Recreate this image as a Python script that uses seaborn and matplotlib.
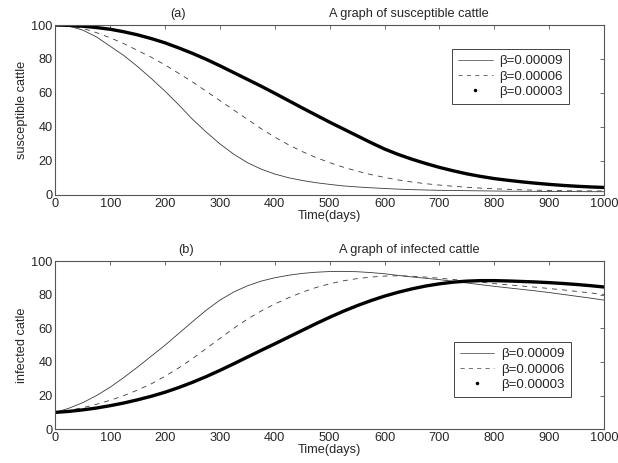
import numpy as np
import pandas as pd
import seaborn as sns
import matplotlib.pyplot as plt
from matplotlib.lines import Line2D

# 时间 (days), read every 25 days
t_days = list(range(0, 1001, 25))

# (a) susceptible cattle
s_b9 = [100, 99.3, 97, 93, 87.5, 82, 75.5, 68.5, 61, 53,
        44.5, 37, 30, 24, 19, 15.2, 12.3, 10.1, 8.5, 7.2,
        6.2, 5.3, 4.7, 4.2, 3.8, 3.4, 3.1, 2.9, 2.7, 2.6,
        2.5, 2.4, 2.3, 2.2, 2.15, 2.1, 2.0, 2.0, 1.95, 1.9, 1.9]
s_b6 = [100, 99.5, 98, 95.5, 92.5, 89, 85, 81, 76.5, 71.5,
        66.5, 61, 55.5, 50, 44.5, 39, 34, 29.5, 25.5, 22,
        19, 16.3, 14, 12, 10.3, 8.8, 7.6, 6.6, 5.8, 5.1,
        4.5, 4.0, 3.6, 3.3, 3.0, 2.8, 2.65, 2.5, 2.4, 2.35, 2.3]
s_b3 = [100, 99.8, 99.3, 98.5, 97.5, 96, 94.2, 92, 89.5, 86.5,
        83.3, 79.8, 76, 72, 68, 64, 59.8, 55.5, 51.2, 47,
        42.8, 38.8, 34.8, 30.8, 27, 23.8, 21, 18.5, 16.2, 14.2,
        12.4, 10.9, 9.6, 8.6, 7.7, 6.9, 6.2, 5.6, 5.1, 4.7, 4.4]

# (b) infected cattle
i_b9 = [10, 12.5, 15.8, 20, 25, 30.8, 37, 43.5, 50, 57,
        64, 70.8, 76.8, 81.6, 85.3, 88.1, 90.1, 91.6, 92.7, 93.4,
        93.8, 93.9, 93.7, 93.2, 92.5, 91.5, 90.6, 89.8, 89, 88,
        87, 86, 85, 84.1, 83.2, 82.3, 81.3, 80.2, 79.1, 78, 76.8]
i_b6 = [10, 11.2, 12.8, 14.8, 17.2, 20, 23.3, 27, 31.5, 36.5,
        42, 48, 54, 60, 65.5, 70.3, 74.5, 78.2, 81.5, 84.3,
        86.5, 88.3, 89.6, 90.5, 91.1, 91.3, 91.0, 90.5, 89.8, 89.1,
        88.3, 87.5, 86.6, 85.9, 85.2, 84.5, 83.7, 82.9, 82, 81.1, 80.2]
i_b3 = [10, 10.6, 11.5, 12.6, 14, 15.6, 17.5, 19.6, 22, 24.8,
        27.9, 31.3, 35, 38.9, 42.9, 46.9, 50.8, 54.8, 58.8, 62.8,
        66.6, 70.2, 73.5, 76.5, 79.2, 81.5, 83.5, 85.2, 86.5, 87.5,
        88.1, 88.4, 88.4, 88.2, 87.9, 87.6, 87.2, 86.7, 86.1, 85.4, 84.6]

beta_labels = ["β=0.00009", "β=0.00006", "β=0.00003"]

sns.set_style("white")
plt.rcParams['font.family'] = ['Liberation Sans', 'DejaVu Sans']
plt.rcParams['font.size'] = 9

fig = plt.figure(figsize=(6.18, 4.63), dpi=100)
ax1 = fig.add_axes([0.0895, 0.579, 0.888, 0.367])
ax2 = fig.add_axes([0.0895, 0.073, 0.888, 0.363])

dash = (0, (6, 6))
styles = [dict(lw=0.6, ls='-', c='#3a3a3a'), dict(lw=0.6, ls=dash, c='#3a3a3a'),
          dict(lw=2.4, ls='-', c='k')]


def draw_panel(ax, series, ylabel, tag, tag_x, title, title_x, leg_anchor):
    for vals, st in zip(series, styles):
        df = pd.DataFrame({"t": t_days, "v": vals})
        sns.lineplot(data=df, x="t", y="v", ax=ax, color=st['c'],
                     linewidth=st['lw'], linestyle=st['ls'])
    ax.set_xlim(0, 1000)
    ax.set_ylim(0, 100)
    ax.set_xticks(range(0, 1001, 100))
    ax.set_yticks(range(0, 101, 20))
    ax.tick_params(direction='in', top=True, right=True, length=3,
                   width=0.6, color='#555555', labelsize=9.2, pad=2)
    for sp in ax.spines.values():
        sp.set_color('#555555')
        sp.set_linewidth(0.8)
    ax.set_xlabel("Time(days)", fontsize=9.2, labelpad=0)
    ax.set_ylabel(ylabel, fontsize=9.2, labelpad=2)
    ax.text(tag_x, 1.03, tag, transform=ax.transAxes, ha='center', va='bottom', fontsize=9.2)
    ax.text(title_x, 1.03, title, transform=ax.transAxes, ha='left', va='bottom', fontsize=9.2)
    handles = [Line2D([], [], color='#3a3a3a', lw=0.5, ls='-'),
               Line2D([], [], color='#3a3a3a', lw=0.5, ls=dash),
               Line2D([], [], color='k', ls='none', marker='.', markersize=3)]
    leg = ax.legend(handles, beta_labels, loc='upper right', bbox_to_anchor=leg_anchor,
                    fancybox=False, framealpha=1, edgecolor='#444444',
                    fontsize=9.6, handlelength=2.6, borderpad=0.45,
                    labelspacing=0.22, handletextpad=0.5, borderaxespad=0)
    leg.get_frame().set_linewidth(0.7)


draw_panel(ax1, [s_b9, s_b6, s_b3], "susceptible cattle", "(a)", 0.224,
           "A graph of susceptible cattle", 0.499, (0.936, 0.859))
draw_panel(ax2, [i_b9, i_b6, i_b3], "infected catle", "(b)", 0.238,
           "A graph of infected cattle", 0.517, (0.939, 0.518))

fig.savefig("out.png", dpi=100)
